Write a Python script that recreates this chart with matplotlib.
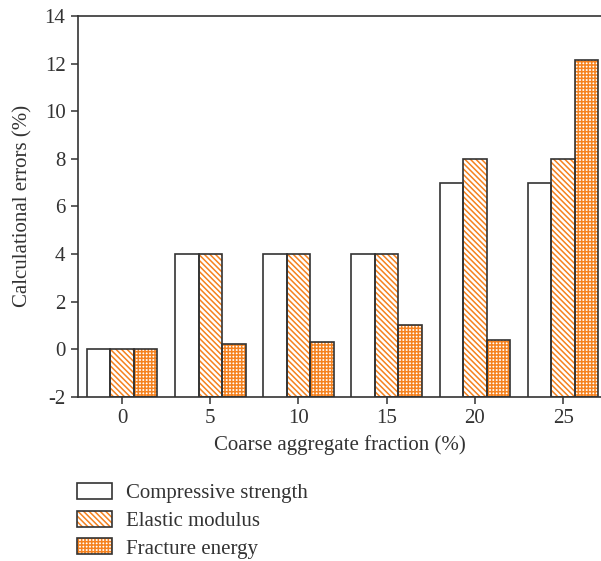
import matplotlib
matplotlib.use("Agg")
import matplotlib.pyplot as plt
from matplotlib.patches import Patch
from matplotlib.legend_handler import HandlerTuple
import numpy as np

categories = ["0", "5", "10", "15", "20", "25"]
compressive = [0, 4, 4, 4, 7, 7]
elastic = [0, 4, 4, 4, 8, 8]
fracture = [0, 0.2, 0.3, 1.0, 0.4, 12.15]
series_names = ["Compressive strength", "Elastic modulus", "Fracture energy"]
y_ticks = [-2, 0, 2, 4, 6, 8, 10, 12, 14]

ORANGE = "#f5821f"
INK = "#333333"
BASE = -2

plt.rcParams["font.family"] = ["Liberation Serif", "DejaVu Serif"]
plt.rcParams["hatch.linewidth"] = 1.1

fig = plt.figure(figsize=(6.01, 5.61), dpi=100)
ax = fig.add_axes([0.1298, 0.2929, 0.8702, 0.6786])

x = np.arange(len(categories))
w = 0.267

styles = [
    dict(face="white", hatch=None),
    dict(face="white", hatch="\\" * 6),
    dict(face="white", hatch="+" * 5),
]

for i, vals in enumerate([compressive, elastic, fracture]):
    pos = x + (i - 1) * w
    heights = np.array(vals) - BASE
    st = styles[i]
    if st["hatch"]:
        ax.bar(pos, heights, w, bottom=BASE, color=st["face"],
               edgecolor=ORANGE, hatch=st["hatch"], linewidth=0, zorder=2)
    ax.bar(pos, heights, w, bottom=BASE, facecolor="white" if not st["hatch"] else "none",
           edgecolor=INK, linewidth=1.2, zorder=3)

ax.set_xlim(-0.5, 5.43)
ax.set_ylim(-2, 14)
ax.set_yticks(y_ticks)
ax.set_yticklabels([str(t) for t in y_ticks])
ax.set_xticks(x)
ax.set_xticklabels(categories)
ax.spines["right"].set_visible(False)
for s in ["left", "bottom", "top"]:
    ax.spines[s].set_color(INK)
    ax.spines[s].set_linewidth(1.2)
ax.tick_params(axis="both", direction="out", length=5, width=1.1, color=INK,
               labelsize=15, labelcolor=INK, pad=4)
ax.set_xlabel("Coarse aggregate fraction (%)", fontsize=15, color=INK, labelpad=5)
ax.set_ylabel("Calculational errors (%)", fontsize=15, color=INK, labelpad=9)

handles = []
for st in styles:
    outline = Patch(facecolor="none", edgecolor=INK, linewidth=1.2)
    if st["hatch"]:
        fill = Patch(facecolor=st["face"], edgecolor=ORANGE, hatch=st["hatch"], linewidth=0)
        handles.append((fill, outline))
    else:
        handles.append((Patch(facecolor="white", edgecolor=INK, linewidth=1.2),))

fig.legend(handles, series_names, handler_map={tuple: HandlerTuple(ndivide=1, pad=0)},
           loc="upper left", bbox_to_anchor=(0.128, 0.139), frameon=False,
           fontsize=15, labelcolor=INK, handlelength=1.68, handleheight=0.82,
           handletextpad=0.67, labelspacing=0.35, borderaxespad=0, borderpad=0)

fig.savefig("out.png", dpi=100)
